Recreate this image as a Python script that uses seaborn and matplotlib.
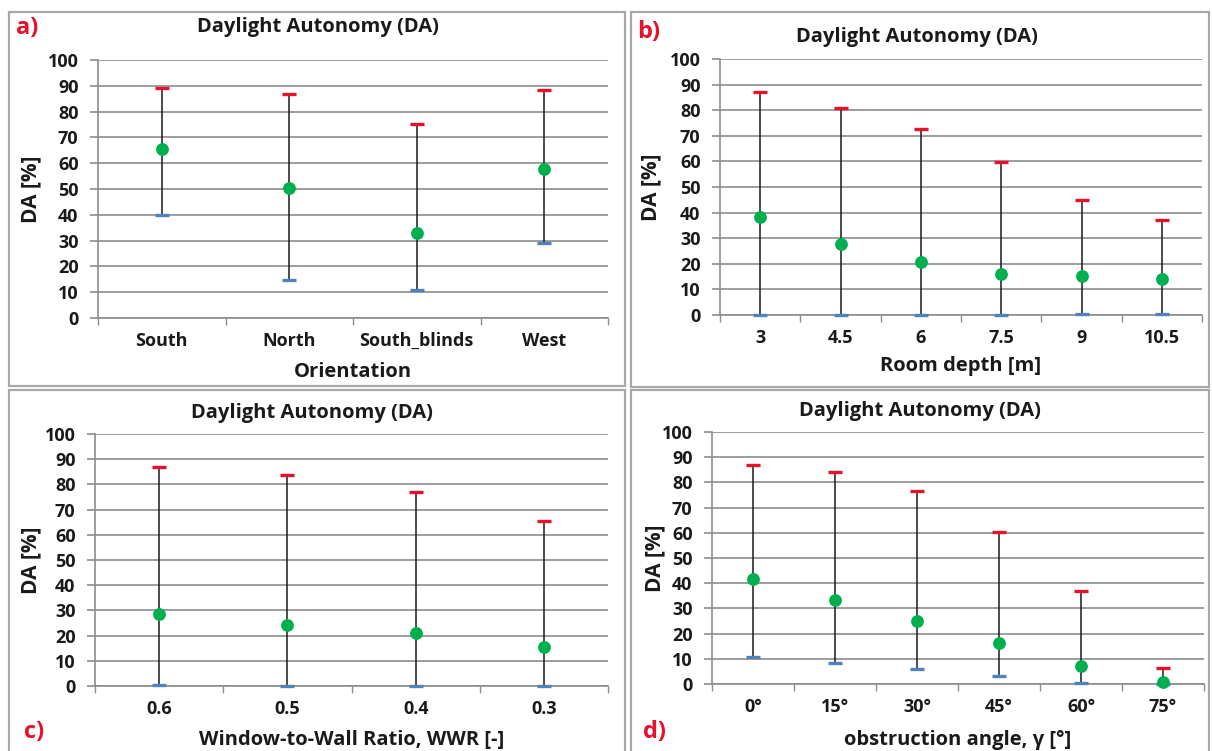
import numpy as np
import pandas as pd
import matplotlib
matplotlib.use("Agg")
import matplotlib.pyplot as plt
import seaborn as sns
from matplotlib.patches import Rectangle

# ---------------- data ----------------
orientation_labels = ["South", "North", "South_blinds", "West"]
orientation_max = [89.3, 86.9, 75.2, 88.4]
orientation_mean = [65.5, 50.2, 33.0, 57.6]
orientation_min = [40.1, 14.7, 11.0, 29.2]

depth_labels = ["3", "4.5", "6", "7.5", "9", "10.5"]
depth_max = [87.0, 81.0, 72.7, 59.6, 44.8, 37.0]
depth_mean = [38.4, 27.6, 20.7, 16.0, 15.1, 14.2]
depth_min = [0.0, 0.0, 0.0, 0.0, 0.3, 0.3]

wwr_labels = ["0.6", "0.5", "0.4", "0.3"]
wwr_max = [86.9, 83.6, 77.1, 65.3]
wwr_mean = [28.5, 24.1, 21.1, 15.5]
wwr_min = [0.3, 0.0, 0.0, 0.0]

angle_labels = ["0°", "15°", "30°", "45°", "60°", "75°"]
angle_max = [87.0, 84.1, 76.5, 60.4, 36.8, 6.3]
angle_mean = [41.8, 33.5, 25.1, 16.1, 7.3, 0.7]
angle_min = [10.8, 8.2, 5.8, 3.0, 0.4, 0.0]

y_ticks = list(range(0, 101, 10))

# ---------------- style ----------------
sns.set_theme(style="white")
plt.rcParams["font.family"] = ["Open Sans", "DejaVu Sans"]

W, H = 1212, 751
GRID = "#8c8c8c"
RED = "#e8102a"
BLUE = "#4f81bd"
GREEN = "#00b04f"
TXT = "#1a1a1a"

fig = plt.figure(figsize=(W / 100, H / 100), dpi=100)
fig.patch.set_facecolor("white")


def add_axes(x0, y0, x1, y1):
    return fig.add_axes([x0 / W, 1 - y1 / H, (x1 - x0) / W, (y1 - y0) / H])


def border(x0, y0, x1, y1):
    fig.add_artist(Rectangle((x0 / W, 1 - y1 / H), (x1 - x0) / W, (y1 - y0) / H,
                             transform=fig.transFigure, fill=False,
                             ec="#a8a8a8", lw=1.6))


def draw(ax, labels, vmax, vmean, vmin, xlabel, xright, ylab_x, xlab_y):
    n = len(labels)
    df = pd.DataFrame({"pos": np.arange(n), "max": vmax, "mean": vmean, "min": vmin})
    ax.set_facecolor("white")
    ax.grid(axis="y", color=GRID, lw=1.2)
    ax.set_axisbelow(True)
    ax.vlines(df["pos"], df["min"], df["max"], color=TXT, lw=1.1, zorder=3)
    ax.scatter(df["pos"], df["max"], marker="_", s=105, color=RED, linewidths=2.4,
               zorder=4, clip_on=False)
    ax.scatter(df["pos"], df["min"], marker="_", s=105, color=BLUE, linewidths=2.4,
               zorder=4, clip_on=False)
    sns.scatterplot(data=df, x="pos", y="mean", color=GREEN, s=85, edgecolor=GREEN,
                    linewidth=0, ax=ax, zorder=5, clip_on=False, legend=False)
    ax.set_xlim(-0.5, xright)
    ax.set_ylim(0, 100)
    ax.set_yticks(y_ticks)
    ax.set_yticklabels([str(t) for t in y_ticks])
    ax.set_xticks(np.arange(-0.5, n, 1.0))
    ax.set_xticklabels([])
    ax.set_xticks(np.arange(n), minor=True)
    ax.set_xticklabels(labels, minor=True)
    ax.tick_params(axis="x", which="major", length=5, width=1.0, color=GRID,
                   direction="out", bottom=True)
    ax.tick_params(axis="x", which="minor", length=0, pad=10, labelsize=13,
                   labelcolor=TXT)
    ax.tick_params(axis="y", length=6, width=1.2, color=GRID, direction="out",
                   left=True, pad=8, labelsize=13, labelcolor=TXT)
    for lab in ax.get_xticklabels(minor=True) + ax.get_yticklabels():
        lab.set_fontweight("bold")
    for s in ["top", "right"]:
        ax.spines[s].set_visible(False)
    for s in ["left", "bottom"]:
        ax.spines[s].set_color(GRID)
        ax.spines[s].set_linewidth(1.2)
    ax.set_xlabel(xlabel, fontsize=14.5, fontweight="bold", color=TXT)
    ax.set_ylabel("DA [%]", fontsize=15, fontweight="bold", color=TXT)
    ax.xaxis.set_label_coords(0.5, xlab_y)
    ax.xaxis.label.set_va("center")
    ax.yaxis.set_label_coords(ylab_x, 0.5)
    ax.yaxis.label.set_va("center")


# panel borders
border(9, 12, 625, 386)
border(631, 12, 1209, 387)
border(9, 390, 625, 752)
border(631, 390, 1209, 752)

# panel a
axa = add_axes(98, 60, 608, 318)
draw(axa, orientation_labels, orientation_max, orientation_mean, orientation_min,
     "Orientation", -0.5 + 510 / 131.5, -0.131, -54 / 258)
# panel b
axb = add_axes(720, 59, 1202, 315)
draw(axb, depth_labels, depth_max, depth_mean, depth_min,
     "Room depth [m]", 5.5, -0.143, -51 / 256)
# panel c
axc = add_axes(95, 434, 608, 686)
draw(axc, wwr_labels, wwr_max, wwr_mean, wwr_min,
     "Window-to-Wall Ratio, WWR [-]", 3.5, -0.125, -54 / 252)
# panel d
axd = add_axes(712, 432, 1204, 684)
draw(axd, angle_labels, angle_max, angle_mean, angle_min,
     "obstruction angle, γ [°]", 5.5, -0.116, -56 / 252)

# titles
for (x, y) in [(318, 27), (917, 37), (312, 413), (920, 411)]:
    fig.text(x / W, 1 - y / H, "Daylight Autonomy (DA)", ha="center", va="center",
             fontsize=14.5, fontweight="bold", color=TXT)

# panel letters
for (x, y, t) in [(27, 28, "a)"), (649, 32, "b)"), (34, 732, "c)"), (654, 732, "d)")]:
    fig.text(x / W, 1 - y / H, t, ha="center", va="center", fontsize=17,
             fontweight="bold", color=RED)

fig.savefig("out.png", dpi=100, facecolor="white")
